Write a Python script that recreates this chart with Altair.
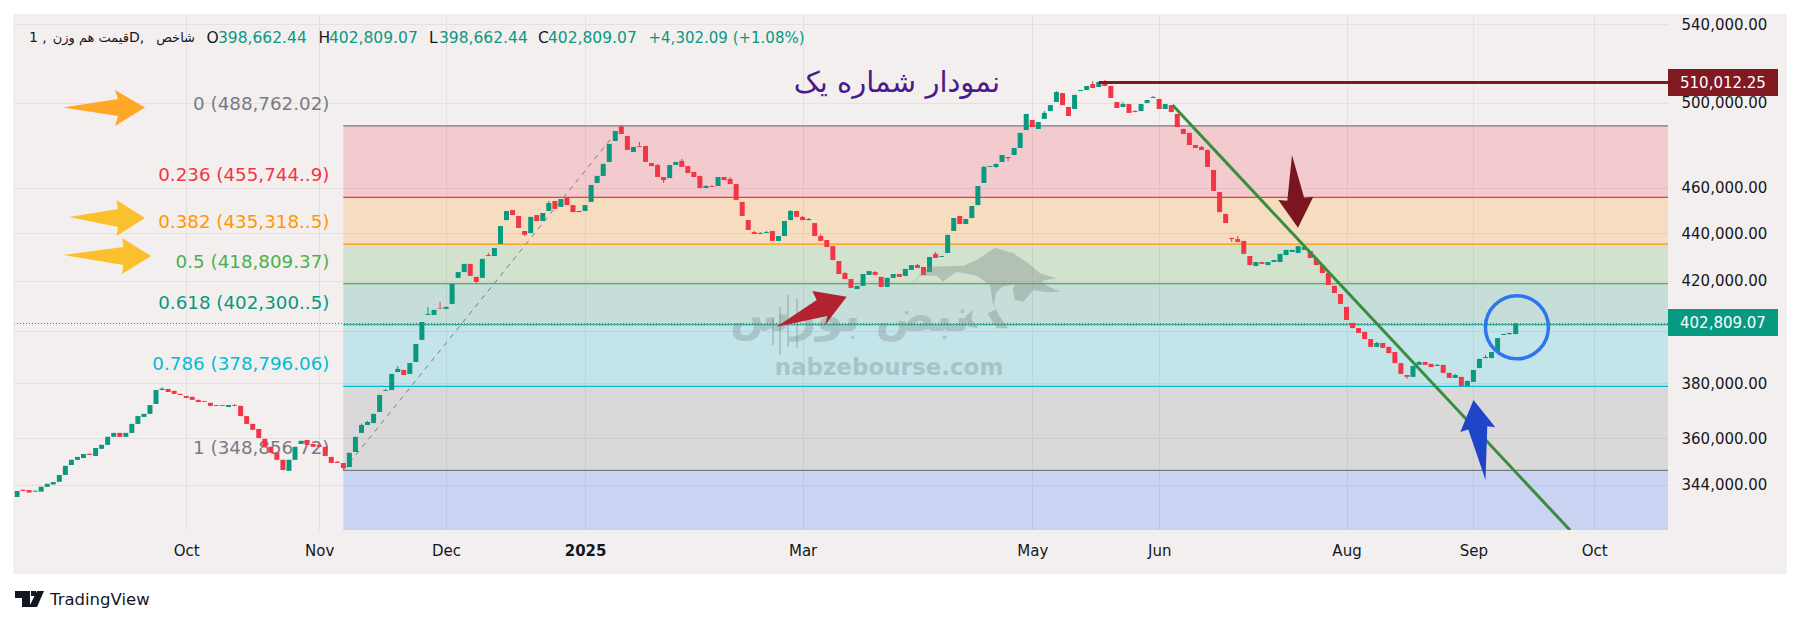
import altair as alt
import pandas as pd

# candle prices in thousands
opens = [339.9,342.3,342.2,341.7,341.7,343.3,344.1,345.0,347.3,350.7,
352.5,353.1,354.6,353.8,356.3,357.7,360.5,361.9,360.5,361.9,
365.1,367.6,368.7,372.3,377.4,377.8,377.1,376.0,375.2,374.9,
373.8,373.4,372.7,371.9,371.6,371.2,371.9,371.6,367.9,365.1,
363.3,359.8,357.0,354.9,352.5,348.7,352.5,358.0,359.4,358.0,
357.7,357.0,353.5,351.8,351.4,350.0,355.2,361.9,364.7,365.4,
369.4,377.1,377.4,384.1,384.9,383.4,387.9,396.4,406.2,406.2,
408.8,408.6,410.6,421.2,423.6,427.0,421.6,421.2,430.7,430.3,
435.4,445.7,450.1,447.5,441.0,440.1,447.9,445.3,449.7,454.1,
451.5,455.6,452.3,449.7,449.7,453.7,462.2,465.4,471.8,481.6,
488.4,483.9,476.4,479.2,479.2,471.3,470.4,464.9,464.4,470.4,
472.3,469.9,467.2,465.4,459.9,460.8,460.8,464.9,464.0,461.7,
453.7,445.7,440.5,439.7,440.1,441.0,436.7,438.8,445.7,449.7,
447.1,445.7,444.4,438.8,437.1,434.5,428.2,423.2,420.7,416.6,
417.9,422.4,423.6,421.6,417.5,421.2,422.8,422.0,424.5,426.5,
425.7,423.6,431.2,429.9,431.6,441.0,447.5,444.0,446.6,452.3,
462.2,469.5,469.5,471.8,474.1,475.0,478.3,486.8,491.6,487.3,
492.1,495.9,500.3,504.7,497.9,496.9,505.7,506.2,509.2,507.7,
510.7,508.2,500.3,497.9,499.3,495.9,495.9,499.8,502.3,501.8,
496.9,498.8,494.5,487.3,485.4,479.7,478.8,477.4,468.1,458.1,
448.4,438.0,437.5,436.7,430.3,426.1,427.8,426.5,427.8,427.8,
430.7,432.0,431.6,432.9,432.4,429.1,426.5,423.2,417.9,414.6,
409.4,403.0,401.0,399.5,396.7,393.7,395.2,393.7,391.7,387.5,
383.0,382.3,386.8,387.9,387.2,386.4,386.8,383.8,381.9,382.3,
378.9,380.4,385.6,389.4,389.4,392.1,398.3,398.7,398.66]
closes = [341.9,341.9,341.4,342.0,343.3,344.3,344.9,347.3,350.4,352.5,
353.5,354.5,354.2,356.6,357.7,360.5,361.9,360.5,361.9,365.1,
367.9,368.7,371.9,377.4,377.9,376.7,376.0,375.6,374.5,373.8,
373.0,373.1,371.6,371.6,371.9,371.9,371.6,367.9,365.1,363.0,
360.1,357.0,354.9,352.5,349.0,352.5,357.0,359.1,357.7,357.0,
357.0,353.8,351.4,351.4,349.7,354.9,360.5,364.7,365.8,368.7,
375.6,377.4,383.4,385.3,383.0,387.5,394.8,403.4,406.6,408.2,
408.6,409.4,418.7,423.6,427.0,422.0,419.5,429.1,430.3,433.7,
443.1,449.7,447.9,442.3,439.3,447.1,445.3,448.8,453.2,450.6,
455.0,452.3,449.2,449.2,452.3,461.3,465.4,470.9,480.2,486.3,
484.9,477.4,478.8,478.8,471.8,469.9,464.9,463.5,470.4,471.8,
469.5,466.7,464.9,459.9,460.8,460.4,464.9,463.5,461.7,454.6,
447.5,441.4,439.7,440.1,440.5,436.7,438.8,445.3,449.7,447.1,
445.7,446.2,438.8,436.7,434.1,428.6,422.8,420.7,417.1,417.9,
422.8,424.0,422.4,417.5,421.2,422.8,421.6,424.9,426.5,425.3,
422.4,429.9,429.5,430.3,439.3,446.6,444.0,446.2,451.9,460.8,
469.5,469.9,470.9,475.0,473.6,478.3,485.4,494.5,488.2,490.6,
495.0,498.8,505.2,498.8,493.5,503.8,506.2,508.2,507.2,510.2,
508.2,502.3,497.4,499.3,495.0,495.4,499.3,501.3,502.8,496.9,
499.3,495.4,488.2,484.9,479.7,478.3,477.4,469.5,458.6,449.2,
444.4,437.5,436.3,431.2,426.5,427.8,427.0,427.8,428.6,431.2,
432.9,432.9,434.5,434.1,429.5,426.5,423.2,418.3,415.0,410.6,
404.2,401.0,399.1,396.7,393.7,395.2,393.3,391.3,387.5,383.4,
382.3,386.4,387.9,386.8,386.0,386.8,383.8,381.9,383.0,378.9,
380.8,384.9,389.1,389.8,391.7,397.1,398.7,399.1,402.81]
wick_high = {24:378.5,36:372.3,50:358.4,53:352.1,57:365.2,58:366.2,61:377.8,63:386.4,68:409.4,
70:411.4,78:431.6,88:454.1,100:489.2,103:481.1,106:470.9,110:473.2,114:461.3,115:461.3,
118:464.9,122:441.0,123:440.5,124:441.0,128:450.1,130:447.5,131:446.6,133:439.7,137:423.6,
142:424.0,149:427.0,152:432.0,160:469.9,170:495.9,172:505.7,178:510.7,180:511.2,183:500.3,
185:496.4,188:503.3,196:479.2,202:438.8,225:395.6,232:388.3,235:387.2,238:383.4,243:390.6}
wick_low = {54:349.0,76:419.1,84:438.8,107:462.2,162:469.0,164:472.2,201:436.3,230:381.5,247:398.3}

tick_index = [28, 50, 71, 94, 130, 168, 189, 220, 241, 261]
tick_names = ["Oct", "Nov", "Dec", "2025", "Mar", "May", "Jun", "Aug", "Sep", "Oct"]
price_ticks = [540000, 500000, 460000, 440000, 420000, 400000, 380000, 360000, 344000]

fib_ratio = ["0", "0.236", "0.382", "0.5", "0.618", "0.786", "1"]
fib_price = [488762.02, 455744.9, 435318.5, 418809.37, 402300.5, 378796.06, 348856.72]
fib_text = ["0 (488,762.02)", "0.236 (455,744..9)", "0.382 (435,318..5)", "0.5 (418,809.37)",
            "0.618 (402,300..5)", "0.786 (378,796.06)", "1 (348,856.72)"]
fib_color = ["#787B86", "#F23645", "#FF9800", "#4CAF50", "#089981", "#00BCD4", "#787B86"]

last_price = 402809.07
peak_price = 510012.25
trend_x = [191.2, 257.0]
trend_y = [498800, 329000]

X_MIN, X_MAX = -0.5, 273.2
Y_MIN, Y_MAX = 329090, 544780
W, H = 1654, 515
GREEN, RED = "#089981", "#F23645"
PANEL = "#f4efef"
FONT = "DejaVu Sans"
FIB_START = 54

xaxis = alt.Axis(values=tick_index, title=None, domain=False, ticks=False, labelPadding=13,
                 labelFont=FONT, labelFontSize=15, labelColor="#131722", gridColor="#e4dfe0", grid=True,
                 labelExpr="%s[indexof(%s, datum.value)]" % (tick_names, tick_index),
                 labelFontWeight=alt.condition("datum.value == 94", alt.value(700), alt.value(400)))
yaxis = alt.Axis(values=price_ticks, title=None, orient="right", domain=False, ticks=False, labelPadding=13,
                 labelFont=FONT, labelFontSize=15, labelColor="#131722", gridColor="#e4dfe0", grid=True,
                 labelExpr="datum.value == 400000 ? '' : format(datum.value, ',.2f')")
xscale = alt.Scale(domain=[X_MIN, X_MAX], nice=False, zero=False, padding=0)
yscale = alt.Scale(type="log", domain=[Y_MIN, Y_MAX], nice=False, base=10, padding=0)


def X(f):
    return alt.X(f, type="quantitative", scale=xscale, axis=xaxis)


def Y(f):
    return alt.Y(f, type="quantitative", scale=yscale, axis=yaxis)


def path(points):
    return "M" + "L".join("%g,%g" % (px - 14, py - 15) for px, py in points) + "Z"


def zoomed(points):
    return path([(900 + zx / 3, 235 + zy / 3) for zx, zy in points])


def shape_layer(d, color, opacity=1.0):
    return alt.Chart(pd.DataFrame({"a": [0]})).mark_point(
        shape=d, size=4, filled=True, color=color, opacity=opacity, strokeWidth=0
    ).encode(x=alt.value(0), y=alt.value(0))


def text_at(px, py, s, color="#131722", size=15, align="left", weight=400, font=FONT, opacity=1.0):
    return alt.Chart(pd.DataFrame({"t": [s]})).mark_text(
        align=align, baseline="middle", font=font, fontSize=size, color=color, fontWeight=weight, opacity=opacity
    ).encode(x=alt.value(px - 14), y=alt.value(py - 15), text="t:N")


def box(x1, y1, x2, y2, color="#ffffff"):
    return alt.Chart(pd.DataFrame({"a": [0]})).mark_rect(color=color).encode(
        x=alt.value(x1 - 14), x2=alt.value(x2 - 14), y=alt.value(y1 - 15), y2=alt.value(y2 - 15))


n = len(opens)
candles = pd.DataFrame({
    "i": list(range(n)),
    "o": [v * 1000 for v in opens],
    "c": [v * 1000 for v in closes],
})
candles["hi"] = [wick_high.get(i, max(opens[i], closes[i])) * 1000 for i in range(n)]
candles["lo"] = [wick_low.get(i, min(opens[i], closes[i])) * 1000 for i in range(n)]
candles["dir"] = ["up" if closes[i] >= opens[i] else "down" for i in range(n)]
cscale = alt.Color("dir:N", scale=alt.Scale(domain=["up", "down"], range=[GREEN, RED]), legend=None)

# Fibonacci bands
band_tops = [fib_price[i] for i in range(6)] + [fib_price[6]]
band_bots = [fib_price[i + 1] for i in range(6)] + [Y_MIN]
band_cols = ["#F23645", "#FF9800", "#4CAF50", "#089981", "#00BCD4", "#787B86", "#2962FF"]
bands = pd.DataFrame({"x": [FIB_START] * 7, "x2": [X_MAX] * 7, "t": band_tops, "b": band_bots, "col": band_cols})
band_layer = alt.Chart(bands).mark_rect(opacity=0.2).encode(
    x=X("x"), x2="x2", y=Y("t"), y2="b", color=alt.Color("col:N", scale=None))

fib = pd.DataFrame({"x": [FIB_START] * 7, "x2": [X_MAX] * 7, "y": fib_price, "col": fib_color,
                    "t": fib_text, "lx": [51.7] * 7})
fib_lines = alt.Chart(fib).mark_rule(strokeWidth=1.2).encode(
    x=X("x"), x2="x2", y=Y("y"), color=alt.Color("col:N", scale=None))
fib_labels = alt.Chart(fib).mark_text(align="right", baseline="middle", font=FONT, fontSize=18.3, dy=-21).encode(
    x=X("lx"), y=Y("y"), text="t:N", color=alt.Color("col:N", scale=None))

dash = alt.Chart(pd.DataFrame({"x": [FIB_START, 100], "y": [fib_price[6], fib_price[0]]})).mark_line(
    color="#787B86", strokeWidth=1, strokeDash=[5, 5]).encode(x=X("x"), y=Y("y"))

wicks = alt.Chart(candles).mark_rule(strokeWidth=1).encode(x=X("i"), y=Y("hi"), y2="lo", color=cscale)
bodies = alt.Chart(candles).mark_bar(size=5).encode(x=X("i"), y=Y("o"), y2="c", color=cscale)

last_line = alt.Chart(pd.DataFrame({"y": [last_price]})).mark_rule(
    color=GREEN, strokeWidth=1, strokeDash=[1, 2]).encode(y=Y("y"))
peak_line = alt.Chart(pd.DataFrame({"x": [179], "x2": [X_MAX], "y": [peak_price]})).mark_rule(
    color="#801922", strokeWidth=3).encode(x=X("x"), x2="x2", y=Y("y"))
trend = alt.Chart(pd.DataFrame({"x": trend_x, "y": trend_y})).mark_line(
    color="#388E3C", strokeWidth=3, clip=True).encode(x=X("x"), y=Y("y"))
circle = alt.Chart(pd.DataFrame({"x": [248.2], "y": [401300]})).mark_point(
    shape="circle", size=3969, filled=False, stroke="#2F75F0", strokeWidth=3.5, opacity=1).encode(x=X("x"), y=Y("y"))

# arrows
arrow_orange = path([(63, 107.5), (118, 99), (115, 90), (145, 107.5), (115, 126), (118, 116)])
arrow_y1 = path([(69, 217), (118, 209), (116.5, 200), (145, 218), (116.5, 236), (118, 227)])
arrow_y2 = path([(63, 255), (123.4, 247), (122, 238), (151, 256), (122, 274), (123.4, 265)])
arrow_red = path([(776.7, 326.7), (816.7, 300), (812.3, 291), (846.7, 296.7), (825.3, 324.7), (827.3, 316)])
arrow_dark = path([(1292, 155), (1304.3, 198.3), (1313.3, 196.7), (1298, 227.7), (1278.3, 200), (1287.3, 200.7)])
arrow_blue = path([(1473.5, 400), (1495.3, 427.3), (1487.3, 426.3), (1485.5, 480), (1468.3, 429.6), (1460.3, 432)])

# watermark
bull = zoomed([(30, 155), (60, 118), (90, 95), (190, 92), (230, 75), (285, 38), (340, 55), (385, 85), (420, 115),
               (470, 130), (425, 138), (440, 152), (482, 170), (440, 172), (400, 165), (370, 200), (345, 195),
               (338, 165), (345, 148), (305, 155), (288, 175), (282, 205), (296, 240), (325, 280), (290, 280),
               (262, 235), (290, 222), (278, 205), (270, 150), (230, 122), (170, 110), (128, 140), (110, 122),
               (60, 122)]) + " " + zoomed([(218, 225), (196, 245), (205, 275), (235, 280), (215, 255)])
logo_wicks = " ".join(path([(cx - 1, t), (cx + 1, t), (cx + 1, b), (cx - 1, b)]) for cx, t, b in
                      [(773, 318, 345), (780, 307, 355), (788, 295, 347), (797, 299, 348)])
tv_logo = path([(15, 591), (30, 591), (30, 607), (22, 607), (22, 598), (15, 598)]) + " " + \
    path([(37, 591), (44, 591), (37, 607), (29, 607)]) + " " + path([(31, 591), (36, 591), (36, 596), (31, 596)])

layers = [
    band_layer,
    fib_lines,
    fib_labels,
    dash,
    last_line,
    wicks,
    bodies,
    shape_layer(bull, "#7f8c80", 0.38),
    shape_layer(logo_wicks, "#6f7f7f", 0.3),
    text_at(850, 318, "نبض بورس", "#6f7f7f", 44, "center", 700, opacity=0.3),
    text_at(889, 368, "nabzebourse.com", "#6f7f7f", 23, "center", 700, opacity=0.32),
    peak_line,
    trend,
    circle,
    shape_layer(arrow_orange, "#FFA726"),
    shape_layer(arrow_y1, "#FBC02D"),
    shape_layer(arrow_y2, "#FBC02D"),
    shape_layer(arrow_red, "#B2222F"),
    shape_layer(arrow_dark, "#7B1522"),
    shape_layer(arrow_blue, "#1E45C8"),
    text_at(897, 83, "نمودار شماره یک", "#4A1A8C", 29, "center"),
    # price tags
    box(1668, 69, 1778, 96, "#801922"),
    text_at(1680, 82.5, "510,012.25", "#ffffff", 15),
    box(1668, 309, 1778, 336, GREEN),
    text_at(1680, 322.5, "402,809.07", "#ffffff", 15),
    # legend line
    text_at(29, 38, "1 ,", size=14),
    text_at(129, 38, "قیمت هم وزن", size=13, align="right"),
    text_at(129, 38, "D,", size=14),
    text_at(195, 38, "شاخص", size=13, align="right"),
    text_at(206.5, 38, "O", size=15.5),
    text_at(218, 38, "398,662.44", GREEN, 15.5),
    text_at(318.5, 38, "H", size=15.5),
    text_at(329, 38, "402,809.07", GREEN, 15.5),
    text_at(429, 38, "L", size=15.5),
    text_at(439, 38, "398,662.44", GREEN, 15.5),
    text_at(538, 38, "C", size=15.5),
    text_at(548, 38, "402,809.07", GREEN, 15.5),
    text_at(648.5, 38, "+4,302.09 (+1.08%)", GREEN, 15),
    # page margins outside the panel
    box(8, 8, 14, 615), box(8, 8, 1792, 15), box(1786, 8, 1792, 615), box(8, 573, 1792, 615),
    alt.Chart(pd.DataFrame({"a": [0]})).mark_rect(fill=None, stroke="#e8e6ec", strokeWidth=1).encode(
        x=alt.value(0), x2=alt.value(1772), y=alt.value(0), y2=alt.value(558)),
    shape_layer(tv_logo, "#131722"),
    text_at(50, 600, "TradingView", "#131722", 16.5),
]

chart = alt.layer(*layers).resolve_scale(color="independent").properties(
    width=W, height=H, padding={"left": 6, "top": 7, "right": 124, "bottom": 80},
    autosize=alt.AutoSizeParams(type="none"), background=PANEL,
).configure_view(stroke=None)

chart.save("out.html", embed_options={"renderer": "svg", "actions": False})
